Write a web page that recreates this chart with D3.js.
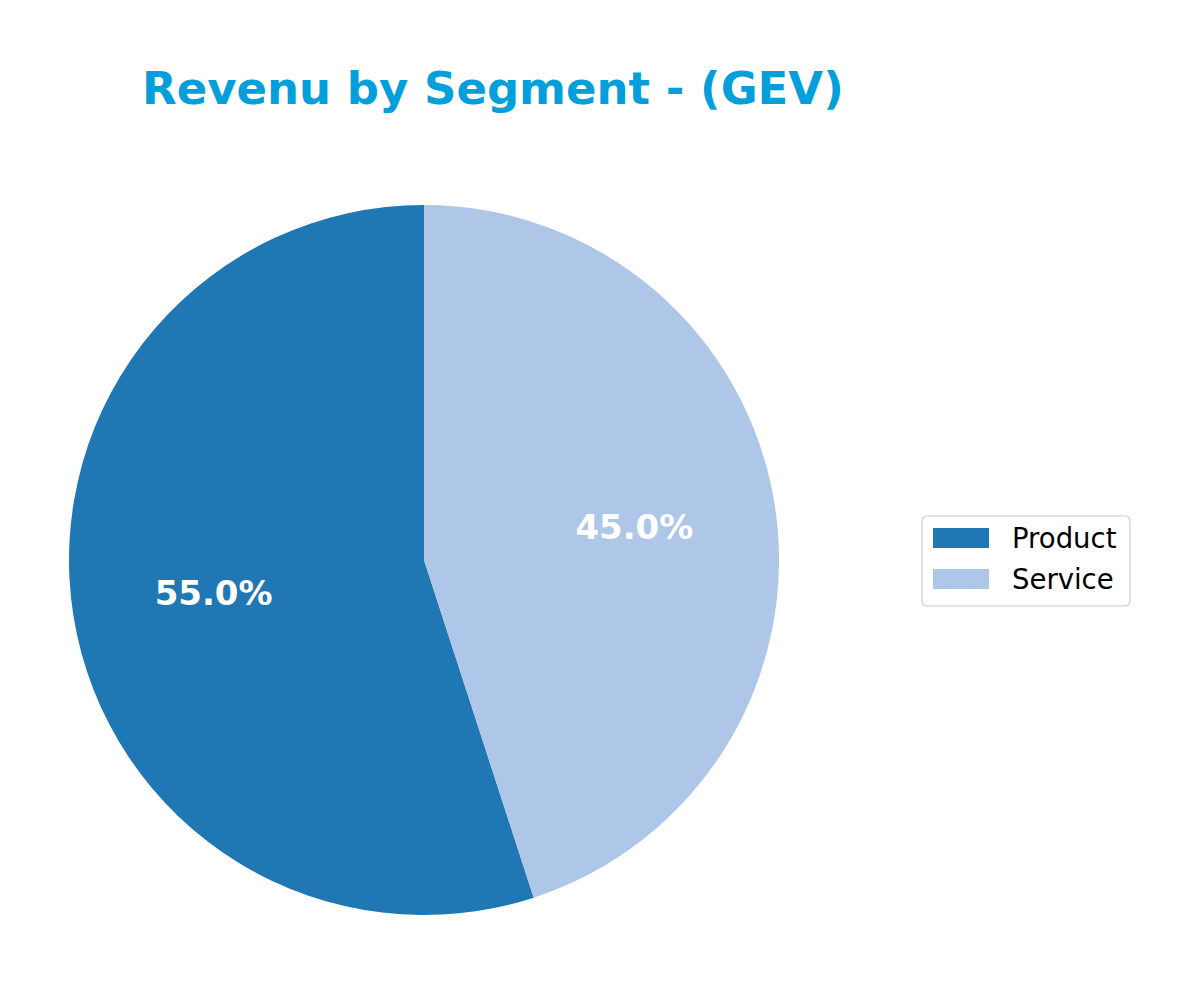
<!DOCTYPE html>
<html>
<head>
<meta charset="utf-8">
<script src="https://cdn.jsdelivr.net/npm/d3@7"></script>
<style>
  body { margin: 0; background: #fff; }
  text { font-family: "DejaVu Sans", sans-serif; }
</style>
</head>
<body>
<svg id="chart-svg"></svg>
<script>
// data
const segments = ["Product", "Service"];
const shares = [55.0, 45.0];
const colors = ["#1f77b4", "#aec7e8"];
const chartTitle = "Revenu by Segment - (GEV)";

const width = 1200, height = 985;
const cx = 424, cy = 560, radius = 355;

const svg = d3.select("#chart-svg")
  .attr("width", width)
  .attr("height", height);

svg.append("text")
  .attr("x", 142)
  .attr("y", 104)
  .attr("fill", "#039fdb")
  .attr("font-size", 45)
  .attr("font-weight", "bold")
  .text(chartTitle);

const data = segments.map((s, i) => ({ name: s, value: shares[i], color: colors[i] }));

// matplotlib style: start at top, go counterclockwise
const pie = d3.pie().sort(null).value(d => d.value)
  .startAngle(0).endAngle(-2 * Math.PI);

const arc = d3.arc().innerRadius(0).outerRadius(radius);
const labelArc = d3.arc().innerRadius(radius * 0.6).outerRadius(radius * 0.6);

const g = svg.append("g").attr("transform", "translate(" + cx + "," + cy + ")");

const arcs = pie(data);

g.selectAll("path.slice")
  .data(arcs)
  .enter()
  .append("path")
  .attr("class", "slice")
  .attr("d", arc)
  .attr("fill", d => d.data.color);

g.selectAll("text.pct")
  .data(arcs)
  .enter()
  .append("text")
  .attr("class", "pct")
  .attr("transform", d => "translate(" + labelArc.centroid(d) + ")")
  .attr("text-anchor", "middle")
  .attr("dominant-baseline", "central")
  .attr("fill", "white")
  .attr("font-size", 34)
  .attr("font-weight", "bold")
  .text(d => d.data.value.toFixed(1) + "%");

// legend
const legend = svg.append("g").attr("transform", "translate(922,516)");
legend.append("rect")
  .attr("width", 208)
  .attr("height", 90)
  .attr("rx", 5)
  .attr("fill", "white")
  .attr("stroke", "#cccccc")
  .attr("stroke-width", 1.2);

const items = legend.selectAll("g.item")
  .data(data)
  .enter()
  .append("g")
  .attr("class", "item")
  .attr("transform", (d, i) => "translate(0," + (i * 41) + ")");

items.append("rect")
  .attr("x", 11)
  .attr("y", 12)
  .attr("width", 56)
  .attr("height", 20)
  .attr("fill", d => d.color);

items.append("text")
  .attr("x", 90)
  .attr("y", 32)
  .attr("font-size", 27.5)
  .attr("fill", "#000")
  .text(d => d.name);
</script>
</body>
</html>
